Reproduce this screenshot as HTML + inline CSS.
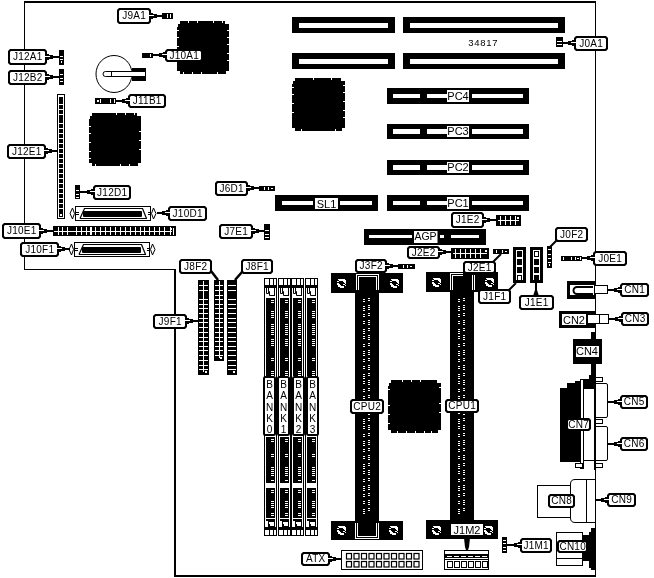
<!DOCTYPE html>
<html><head><meta charset="utf-8"><style>
html,body{margin:0;padding:0;background:#fff;overflow:hidden;}
svg{display:block;will-change:transform;}
text{font-family:"Liberation Sans",sans-serif;fill:#000;}
</style></head><body>
<svg width="654" height="578" viewBox="0 0 654 578">
<rect x="24" y="1" width="572" height="2" fill="#000"/>
<rect x="24" y="1" width="1" height="269" fill="#000"/>
<rect x="24" y="269" width="152" height="1" fill="#000"/>
<rect x="174" y="269" width="2" height="308" fill="#000"/>
<rect x="174" y="575" width="422" height="2" fill="#000"/>
<rect x="595" y="1" width="1" height="576" fill="#000"/>
<rect x="292" y="17" width="103" height="16" fill="#000"/>
<rect x="299" y="23" width="89" height="5" fill="#fff"/>
<rect x="403" y="17" width="162" height="16" fill="#000"/>
<rect x="410" y="23" width="148" height="5" fill="#fff"/>
<rect x="292" y="53" width="103" height="16" fill="#000"/>
<rect x="299" y="59" width="89" height="5" fill="#fff"/>
<rect x="403" y="53" width="162" height="16" fill="#000"/>
<rect x="410" y="59" width="148" height="5" fill="#fff"/>
<rect x="387" y="88" width="142" height="16" fill="#000"/>
<rect x="393" y="94" width="27" height="4" fill="#fff"/>
<rect x="427" y="94" width="20" height="4" fill="#fff"/>
<rect x="472" y="94" width="51" height="4" fill="#fff"/>
<rect x="447" y="90" width="22" height="12" fill="#fff"/>
<text x="458" y="99.5" font-size="11" text-anchor="middle" >PC4</text>
<rect x="387" y="124" width="142" height="15" fill="#000"/>
<rect x="393" y="129" width="27" height="5" fill="#fff"/>
<rect x="427" y="129" width="20" height="5" fill="#fff"/>
<rect x="472" y="129" width="51" height="5" fill="#fff"/>
<rect x="447" y="126" width="22" height="11" fill="#fff"/>
<text x="458" y="135.0" font-size="11" text-anchor="middle" >PC3</text>
<rect x="387" y="160" width="142" height="15" fill="#000"/>
<rect x="393" y="165" width="27" height="5" fill="#fff"/>
<rect x="427" y="165" width="20" height="5" fill="#fff"/>
<rect x="472" y="165" width="51" height="5" fill="#fff"/>
<rect x="447" y="162" width="22" height="11" fill="#fff"/>
<text x="458" y="171.0" font-size="11" text-anchor="middle" >PC2</text>
<rect x="387" y="195" width="142" height="16" fill="#000"/>
<rect x="393" y="201" width="27" height="4" fill="#fff"/>
<rect x="427" y="201" width="20" height="4" fill="#fff"/>
<rect x="472" y="201" width="51" height="4" fill="#fff"/>
<rect x="447" y="197" width="22" height="12" fill="#fff"/>
<text x="458" y="206.5" font-size="11" text-anchor="middle" >PC1</text>
<rect x="275" y="195" width="103" height="16" fill="#000"/>
<rect x="282" y="201" width="31" height="4" fill="#fff"/>
<rect x="340" y="201" width="32" height="4" fill="#fff"/>
<rect x="315" y="198" width="23" height="11" fill="#fff"/>
<text x="326.5" y="208" font-size="11" text-anchor="middle" >SL1</text>
<rect x="364" y="229" width="122" height="16" fill="#000"/>
<rect x="369" y="235" width="43" height="3" fill="#fff"/>
<rect x="451" y="235" width="28" height="3" fill="#fff"/>
<rect x="440" y="235" width="4" height="3" fill="#fff"/>
<rect x="414" y="231" width="23.5" height="12" fill="#fff"/>
<text x="425.5" y="239.5" font-size="10.5" text-anchor="middle" >AGP</text>
<polygon points="180,21 225,21 225,24 229,24 229,71 226,71 226,74 180,74 180,71 177,71 177,27 178,27 178,24 180,24" fill="#000"/>
<rect x="188" y="21" width="1" height="2" fill="#fff"/>
<rect x="197" y="21" width="1" height="2" fill="#fff"/>
<rect x="213" y="21" width="1" height="2" fill="#fff"/>
<rect x="222" y="21" width="1" height="2" fill="#fff"/>
<rect x="183" y="72" width="1" height="2" fill="#fff"/>
<rect x="192" y="72" width="1" height="2" fill="#fff"/>
<rect x="201" y="72" width="1" height="2" fill="#fff"/>
<rect x="217" y="72" width="1" height="2" fill="#fff"/>
<rect x="177" y="30" width="2" height="1" fill="#fff"/>
<rect x="177" y="37" width="2" height="1" fill="#fff"/>
<rect x="177" y="46" width="2" height="1" fill="#fff"/>
<rect x="227" y="30" width="2" height="1" fill="#fff"/>
<rect x="227" y="37" width="2" height="1" fill="#fff"/>
<rect x="227" y="44" width="2" height="1" fill="#fff"/>
<rect x="227" y="53" width="2" height="1" fill="#fff"/>
<rect x="227" y="60" width="2" height="1" fill="#fff"/>
<polygon points="92,113 137,113 137,116 141,116 141,163 138,163 138,166 92,166 92,163 89,163 89,119 90,119 90,116 92,116" fill="#000"/>
<rect x="116" y="113" width="1" height="2" fill="#fff"/>
<rect x="125" y="113" width="1" height="2" fill="#fff"/>
<rect x="134" y="113" width="1" height="2" fill="#fff"/>
<rect x="95" y="164" width="1" height="2" fill="#fff"/>
<rect x="120" y="164" width="1" height="2" fill="#fff"/>
<rect x="129" y="164" width="1" height="2" fill="#fff"/>
<rect x="89" y="126" width="2" height="1" fill="#fff"/>
<rect x="89" y="133" width="2" height="1" fill="#fff"/>
<rect x="89" y="142" width="2" height="1" fill="#fff"/>
<rect x="89" y="151" width="2" height="1" fill="#fff"/>
<rect x="89" y="158" width="2" height="1" fill="#fff"/>
<rect x="139" y="131" width="2" height="1" fill="#fff"/>
<rect x="139" y="140" width="2" height="1" fill="#fff"/>
<rect x="139" y="149" width="2" height="1" fill="#fff"/>
<polygon points="295,78 341,78 341,81 345,81 345,128 342,128 342,131 295,131 295,128 292,128 292,84 293,84 293,81 295,81" fill="#000"/>
<rect x="313" y="78" width="1" height="2" fill="#fff"/>
<rect x="331" y="78" width="1" height="2" fill="#fff"/>
<rect x="301" y="129" width="1" height="2" fill="#fff"/>
<rect x="335" y="129" width="1" height="2" fill="#fff"/>
<rect x="292" y="87" width="2" height="1" fill="#fff"/>
<rect x="292" y="94" width="2" height="1" fill="#fff"/>
<rect x="292" y="103" width="2" height="1" fill="#fff"/>
<rect x="292" y="112" width="2" height="1" fill="#fff"/>
<rect x="343" y="85" width="2" height="1" fill="#fff"/>
<rect x="343" y="92" width="2" height="1" fill="#fff"/>
<rect x="343" y="101" width="2" height="1" fill="#fff"/>
<rect x="343" y="110" width="2" height="1" fill="#fff"/>
<rect x="343" y="117" width="2" height="1" fill="#fff"/>
<polygon points="391,380 437,380 437,383 441,383 441,430 438,430 438,433 391,433 391,430 388,430 388,386 389,386 389,383 391,383" fill="#000"/>
<rect x="402" y="380" width="1" height="2" fill="#fff"/>
<rect x="411" y="380" width="1" height="2" fill="#fff"/>
<rect x="420" y="380" width="1" height="2" fill="#fff"/>
<rect x="397" y="431" width="1" height="2" fill="#fff"/>
<rect x="406" y="431" width="1" height="2" fill="#fff"/>
<rect x="415" y="431" width="1" height="2" fill="#fff"/>
<rect x="424" y="431" width="1" height="2" fill="#fff"/>
<rect x="431" y="431" width="1" height="2" fill="#fff"/>
<rect x="388" y="389" width="2" height="1" fill="#fff"/>
<rect x="388" y="405" width="2" height="1" fill="#fff"/>
<rect x="388" y="414" width="2" height="1" fill="#fff"/>
<rect x="388" y="423" width="2" height="1" fill="#fff"/>
<rect x="439" y="387" width="2" height="1" fill="#fff"/>
<rect x="439" y="403" width="2" height="1" fill="#fff"/>
<rect x="439" y="412" width="2" height="1" fill="#fff"/>
<ellipse cx="114" cy="74" rx="18" ry="18.5" fill="#fff" stroke="#000" stroke-width="1"/>
<rect x="132" y="68" width="14" height="13" fill="#000"/>
<path d="M105.5,71.5 H145.5 V76.5 H105.5 A2.5,2.5 0 0 1 105.5,71.5 Z" fill="#fff" stroke="#000" stroke-width="1"/>
<rect x="111" y="72" width="1" height="4" fill="#000"/>
<rect x="57" y="94" width="8" height="125" fill="#000"/>
<rect x="58" y="95" width="6" height="123" fill="#fff"/>
<rect x="59" y="97" width="4" height="7" fill="#000"/>
<rect x="59" y="105" width="4" height="4" fill="#000"/>
<rect x="59" y="110" width="4" height="4" fill="#000"/>
<rect x="59" y="115" width="4" height="8" fill="#000"/>
<rect x="59" y="124" width="4" height="4" fill="#000"/>
<rect x="59" y="129" width="4" height="4" fill="#000"/>
<rect x="59" y="134" width="4" height="4" fill="#000"/>
<rect x="59" y="139" width="4" height="4" fill="#000"/>
<rect x="59" y="144" width="4" height="4" fill="#000"/>
<rect x="59" y="149" width="4" height="4" fill="#000"/>
<rect x="59" y="154" width="4" height="4" fill="#000"/>
<rect x="59" y="159" width="4" height="4" fill="#000"/>
<rect x="59" y="164" width="4" height="4" fill="#000"/>
<rect x="59" y="169" width="4" height="4" fill="#000"/>
<rect x="59" y="174" width="4" height="4" fill="#000"/>
<rect x="59" y="179" width="4" height="4" fill="#000"/>
<rect x="59" y="184" width="4" height="4" fill="#000"/>
<rect x="59" y="189" width="4" height="4" fill="#000"/>
<rect x="59" y="194" width="4" height="4" fill="#000"/>
<rect x="59" y="199" width="4" height="4" fill="#000"/>
<rect x="59" y="204" width="4" height="4" fill="#000"/>
<rect x="59" y="209" width="4" height="4" fill="#000"/>
<rect x="59" y="213" width="4" height="4" fill="#000"/>
<rect x="60" y="214" width="2" height="2" fill="#fff"/>
<rect x="53" y="226" width="123" height="10" fill="#000"/>
<rect x="54" y="231" width="118" height="1" fill="#fff"/>
<rect x="58" y="227" width="1" height="8" fill="#fff"/>
<rect x="62" y="227" width="1" height="8" fill="#fff"/>
<rect x="67" y="227" width="1" height="8" fill="#fff"/>
<rect x="76" y="227" width="1" height="8" fill="#fff"/>
<rect x="81" y="227" width="1" height="8" fill="#fff"/>
<rect x="86" y="227" width="1" height="8" fill="#fff"/>
<rect x="95" y="227" width="1" height="8" fill="#fff"/>
<rect x="100" y="227" width="1" height="8" fill="#fff"/>
<rect x="105" y="227" width="1" height="8" fill="#fff"/>
<rect x="110" y="227" width="1" height="8" fill="#fff"/>
<rect x="115" y="227" width="1" height="8" fill="#fff"/>
<rect x="120" y="227" width="1" height="8" fill="#fff"/>
<rect x="125" y="227" width="1" height="8" fill="#fff"/>
<rect x="130" y="227" width="1" height="8" fill="#fff"/>
<rect x="135" y="227" width="1" height="8" fill="#fff"/>
<rect x="140" y="227" width="1" height="8" fill="#fff"/>
<rect x="144" y="227" width="1" height="8" fill="#fff"/>
<rect x="149" y="227" width="1" height="8" fill="#fff"/>
<rect x="154" y="227" width="1" height="8" fill="#fff"/>
<rect x="159" y="227" width="1" height="8" fill="#fff"/>
<rect x="164" y="227" width="1" height="8" fill="#fff"/>
<rect x="170" y="227" width="1" height="8" fill="#fff"/>
<rect x="90" y="227" width="2" height="8" fill="#fff"/>
<rect x="171" y="228" width="1" height="2" fill="#fff"/>
<rect x="173" y="228" width="1" height="7" fill="#fff"/>
<rect x="75" y="206" width="76" height="15" fill="#000"/>
<rect x="76" y="207" width="74" height="13" fill="#fff"/>
<rect x="84" y="208" width="59" height="1" fill="#000"/>
<rect x="80" y="218" width="67" height="1" fill="#000"/>
<path d="M84.5,208.5 L80,218.5" stroke="#000" stroke-width="1.2" fill="none"/>
<path d="M142.5,208.5 L146.5,218.5" stroke="#000" stroke-width="1.2" fill="none"/>
<rect x="83" y="211" width="59" height="6" rx="1" fill="#000"/>
<rect x="76" y="212" width="3" height="1" fill="#000"/>
<rect x="76" y="214" width="3" height="1" fill="#000"/>
<rect x="148" y="212" width="2" height="1" fill="#000"/>
<rect x="148" y="214" width="2" height="1" fill="#000"/>
<path d="M72.5,208 L70,213.5 L72.5,219 L74.5,213.5 Z" fill="none" stroke="#000" stroke-width="1"/>
<path d="M153.5,208 L151.5,213.5 L153.5,219 L156,213.5 Z" fill="none" stroke="#000" stroke-width="1"/>
<rect x="74" y="242" width="76" height="15" fill="#000"/>
<rect x="75" y="243" width="74" height="13" fill="#fff"/>
<rect x="83" y="244" width="59" height="1" fill="#000"/>
<rect x="79" y="254" width="67" height="1" fill="#000"/>
<path d="M83.5,244.5 L79,254.5" stroke="#000" stroke-width="1.2" fill="none"/>
<path d="M141.5,244.5 L145.5,254.5" stroke="#000" stroke-width="1.2" fill="none"/>
<rect x="82" y="247" width="59" height="6" rx="1" fill="#000"/>
<rect x="75" y="248" width="3" height="1" fill="#000"/>
<rect x="75" y="250" width="3" height="1" fill="#000"/>
<rect x="147" y="248" width="2" height="1" fill="#000"/>
<rect x="147" y="250" width="2" height="1" fill="#000"/>
<path d="M71.5,244 L69,249.5 L71.5,255 L73.5,249.5 Z" fill="none" stroke="#000" stroke-width="1"/>
<path d="M152.5,244 L150.5,249.5 L152.5,255 L155,249.5 Z" fill="none" stroke="#000" stroke-width="1"/>
<rect x="198" y="280" width="11" height="95" fill="#000"/>
<rect x="199" y="285" width="9" height="1" fill="#fff"/>
<rect x="199" y="290" width="9" height="1" fill="#fff"/>
<rect x="199" y="299" width="9" height="1" fill="#fff"/>
<rect x="199" y="304" width="9" height="1" fill="#fff"/>
<rect x="199" y="308" width="9" height="1" fill="#fff"/>
<rect x="199" y="313" width="9" height="1" fill="#fff"/>
<rect x="199" y="318" width="9" height="1" fill="#fff"/>
<rect x="199" y="322" width="9" height="1" fill="#fff"/>
<rect x="199" y="327" width="9" height="1" fill="#fff"/>
<rect x="199" y="332" width="9" height="1" fill="#fff"/>
<rect x="199" y="337" width="9" height="1" fill="#fff"/>
<rect x="199" y="341" width="9" height="1" fill="#fff"/>
<rect x="199" y="346" width="9" height="1" fill="#fff"/>
<rect x="199" y="350" width="9" height="1" fill="#fff"/>
<rect x="199" y="355" width="9" height="1" fill="#fff"/>
<rect x="199" y="360" width="9" height="1" fill="#fff"/>
<rect x="199" y="365" width="9" height="1" fill="#fff"/>
<rect x="199" y="369" width="9" height="1" fill="#fff"/>
<rect x="203" y="281" width="1" height="91" fill="#fff"/>
<rect x="205" y="371" width="2" height="2" fill="#fff"/>
<rect x="214" y="280" width="10" height="81" fill="#000"/>
<rect x="215" y="285" width="8" height="1" fill="#fff"/>
<rect x="215" y="290" width="8" height="1" fill="#fff"/>
<rect x="215" y="295" width="8" height="1" fill="#fff"/>
<rect x="215" y="299" width="8" height="1" fill="#fff"/>
<rect x="215" y="304" width="8" height="1" fill="#fff"/>
<rect x="215" y="308" width="8" height="1" fill="#fff"/>
<rect x="215" y="313" width="8" height="1" fill="#fff"/>
<rect x="215" y="318" width="8" height="1" fill="#fff"/>
<rect x="215" y="322" width="8" height="1" fill="#fff"/>
<rect x="215" y="327" width="8" height="1" fill="#fff"/>
<rect x="215" y="332" width="8" height="1" fill="#fff"/>
<rect x="215" y="337" width="8" height="1" fill="#fff"/>
<rect x="215" y="341" width="8" height="1" fill="#fff"/>
<rect x="215" y="346" width="8" height="1" fill="#fff"/>
<rect x="215" y="350" width="8" height="1" fill="#fff"/>
<rect x="215" y="355" width="8" height="1" fill="#fff"/>
<rect x="219" y="281" width="1" height="77" fill="#fff"/>
<rect x="220" y="357" width="2" height="2" fill="#fff"/>
<rect x="227" y="280" width="10" height="95" fill="#000"/>
<rect x="228" y="285" width="8" height="1" fill="#fff"/>
<rect x="228" y="290" width="8" height="1" fill="#fff"/>
<rect x="228" y="299" width="8" height="1" fill="#fff"/>
<rect x="228" y="304" width="8" height="1" fill="#fff"/>
<rect x="228" y="308" width="8" height="1" fill="#fff"/>
<rect x="228" y="313" width="8" height="1" fill="#fff"/>
<rect x="228" y="318" width="8" height="1" fill="#fff"/>
<rect x="228" y="322" width="8" height="1" fill="#fff"/>
<rect x="228" y="327" width="8" height="1" fill="#fff"/>
<rect x="228" y="332" width="8" height="1" fill="#fff"/>
<rect x="228" y="337" width="8" height="1" fill="#fff"/>
<rect x="228" y="341" width="8" height="1" fill="#fff"/>
<rect x="228" y="346" width="8" height="1" fill="#fff"/>
<rect x="228" y="350" width="8" height="1" fill="#fff"/>
<rect x="228" y="355" width="8" height="1" fill="#fff"/>
<rect x="228" y="360" width="8" height="1" fill="#fff"/>
<rect x="228" y="365" width="8" height="1" fill="#fff"/>
<rect x="228" y="369" width="8" height="1" fill="#fff"/>
<rect x="233" y="371" width="2" height="2" fill="#fff"/>
<rect x="496" y="215" width="25" height="11" fill="#000"/>
<rect x="498" y="220" width="21" height="1" fill="#fff"/>
<rect x="500" y="216" width="1" height="9" fill="#fff"/>
<rect x="505" y="216" width="1" height="9" fill="#fff"/>
<rect x="510" y="216" width="1" height="9" fill="#fff"/>
<rect x="515" y="216" width="1" height="9" fill="#fff"/>
<rect x="517" y="217" width="2" height="2" fill="#fff"/>
<rect x="451" y="248" width="38" height="11" fill="#000"/>
<rect x="453" y="253" width="34" height="1" fill="#fff"/>
<rect x="455" y="249" width="1" height="9" fill="#fff"/>
<rect x="460" y="249" width="1" height="9" fill="#fff"/>
<rect x="465" y="249" width="1" height="9" fill="#fff"/>
<rect x="470" y="249" width="1" height="9" fill="#fff"/>
<rect x="475" y="249" width="1" height="9" fill="#fff"/>
<rect x="480" y="249" width="1" height="9" fill="#fff"/>
<rect x="485" y="250" width="2" height="2" fill="#fff"/>
<rect x="162" y="13" width="11" height="6" fill="#000"/>
<rect x="167" y="14" width="1" height="4" fill="#fff"/>
<rect x="170" y="14" width="1" height="4" fill="#fff"/>
<rect x="142" y="53" width="11" height="5" fill="#000"/>
<rect x="150" y="54" width="1" height="3" fill="#fff"/>
<rect x="59" y="50" width="5" height="15" fill="#000"/>
<rect x="60" y="56" width="3" height="1" fill="#fff"/>
<rect x="60" y="59" width="3" height="1" fill="#fff"/>
<rect x="61" y="61" width="1" height="2" fill="#fff"/>
<rect x="59" y="69" width="5" height="16" fill="#000"/>
<rect x="60" y="74" width="3" height="1" fill="#fff"/>
<rect x="60" y="78" width="3" height="1" fill="#fff"/>
<rect x="60" y="81" width="3" height="1" fill="#fff"/>
<rect x="95" y="98" width="21" height="6" fill="#000"/>
<rect x="100" y="99" width="1" height="4" fill="#fff"/>
<rect x="110" y="99" width="1" height="4" fill="#fff"/>
<rect x="114" y="99" width="1" height="4" fill="#fff"/>
<rect x="97" y="100" width="2" height="2" fill="#fff"/>
<rect x="75" y="185" width="5" height="14" fill="#000"/>
<rect x="76" y="190" width="3" height="1" fill="#fff"/>
<rect x="76" y="194" width="3" height="1" fill="#fff"/>
<rect x="76" y="197" width="3" height="1" fill="#fff"/>
<rect x="259" y="186" width="16" height="5" fill="#000"/>
<rect x="264" y="187" width="1" height="3" fill="#fff"/>
<rect x="268" y="187" width="1" height="3" fill="#fff"/>
<rect x="271" y="188" width="2" height="1" fill="#fff"/>
<rect x="264" y="224" width="6" height="16" fill="#000"/>
<rect x="265" y="230" width="4" height="1" fill="#fff"/>
<rect x="265" y="234" width="4" height="1" fill="#fff"/>
<rect x="265" y="237" width="4" height="1" fill="#fff"/>
<rect x="398" y="264" width="17" height="5" fill="#000"/>
<rect x="403" y="265" width="1" height="3" fill="#fff"/>
<rect x="407" y="265" width="1" height="3" fill="#fff"/>
<rect x="410" y="266" width="2" height="1" fill="#fff"/>
<rect x="493" y="249" width="16" height="5" fill="#000"/>
<rect x="496" y="250" width="1" height="3" fill="#fff"/>
<rect x="502" y="250" width="1" height="3" fill="#fff"/>
<rect x="505" y="251" width="2" height="1" fill="#fff"/>
<rect x="547" y="246" width="5" height="22" fill="#000"/>
<rect x="548" y="249" width="3" height="1" fill="#fff"/>
<rect x="548" y="254" width="3" height="1" fill="#fff"/>
<rect x="548" y="258" width="3" height="1" fill="#fff"/>
<rect x="548" y="262" width="3" height="1" fill="#fff"/>
<rect x="549" y="264" width="1" height="2" fill="#fff"/>
<rect x="561" y="256" width="21" height="5" fill="#000"/>
<rect x="563" y="257" width="1" height="3" fill="#fff"/>
<rect x="571" y="257" width="1" height="3" fill="#fff"/>
<rect x="575" y="257" width="1" height="3" fill="#fff"/>
<rect x="580" y="257" width="1" height="3" fill="#fff"/>
<rect x="577" y="258" width="2" height="1" fill="#fff"/>
<rect x="556" y="37" width="7" height="10" fill="#000"/>
<rect x="557" y="41" width="5" height="1" fill="#fff"/>
<rect x="557" y="44" width="5" height="1" fill="#fff"/>
<rect x="502" y="537" width="5" height="16" fill="#000"/>
<rect x="503" y="540" width="3" height="1" fill="#fff"/>
<rect x="503" y="543" width="3" height="1" fill="#fff"/>
<rect x="503" y="547" width="3" height="1" fill="#fff"/>
<rect x="503" y="550" width="3" height="1" fill="#fff"/>
<rect x="513" y="247" width="13" height="36" fill="#000"/>
<rect x="516" y="250" width="7" height="30" fill="#fff"/>
<rect x="517" y="251" width="5" height="6" fill="#000"/>
<rect x="517" y="259" width="5" height="6" fill="#000"/>
<rect x="517" y="267" width="5" height="6" fill="#000"/>
<rect x="517" y="275" width="5" height="6" fill="#000"/>
<rect x="518" y="276" width="3" height="4" fill="#fff"/>
<rect x="530" y="247" width="13" height="36" fill="#000"/>
<rect x="533" y="250" width="7" height="30" fill="#fff"/>
<rect x="534" y="251" width="5" height="6" fill="#000"/>
<rect x="535" y="252" width="3" height="4" fill="#fff"/>
<rect x="534" y="259" width="5" height="6" fill="#000"/>
<rect x="534" y="267" width="5" height="6" fill="#000"/>
<rect x="534" y="275" width="5" height="6" fill="#000"/>
<rect x="264" y="278" width="13" height="258" fill="#000"/>
<rect x="265" y="279" width="11" height="256" fill="#fff"/>
<rect x="265" y="285" width="11" height="3" fill="#000"/>
<rect x="269" y="279" width="1" height="6" fill="#000"/>
<rect x="273" y="279" width="1" height="6" fill="#000"/>
<path d="M266.5,288 V293.5 H268.5 V291.5 M268.5,288 V291.5 H269.5 V295.5 H275" fill="none" stroke="#000" stroke-width="1"/>
<rect x="274" y="288" width="1" height="8" fill="#000"/>
<rect x="266" y="298" width="9" height="78" fill="#000"/>
<rect x="266" y="437" width="9" height="46" fill="#000"/>
<rect x="266" y="488" width="9" height="30" fill="#000"/>
<rect x="271" y="300" width="3" height="1" fill="#fff"/>
<rect x="271" y="302" width="3" height="1" fill="#fff"/>
<rect x="271" y="311" width="3" height="1" fill="#fff"/>
<rect x="271" y="313" width="3" height="1" fill="#fff"/>
<rect x="271" y="315" width="3" height="1" fill="#fff"/>
<rect x="271" y="317" width="3" height="1" fill="#fff"/>
<rect x="271" y="324" width="3" height="1" fill="#fff"/>
<rect x="271" y="326" width="3" height="1" fill="#fff"/>
<rect x="271" y="328" width="3" height="1" fill="#fff"/>
<rect x="271" y="330" width="3" height="1" fill="#fff"/>
<rect x="271" y="332" width="3" height="1" fill="#fff"/>
<rect x="271" y="334" width="3" height="1" fill="#fff"/>
<rect x="271" y="339" width="3" height="1" fill="#fff"/>
<rect x="271" y="341" width="3" height="1" fill="#fff"/>
<rect x="271" y="343" width="3" height="1" fill="#fff"/>
<rect x="271" y="345" width="3" height="1" fill="#fff"/>
<rect x="271" y="358" width="3" height="1" fill="#fff"/>
<rect x="271" y="360" width="3" height="1" fill="#fff"/>
<rect x="271" y="371" width="3" height="1" fill="#fff"/>
<rect x="271" y="373" width="3" height="1" fill="#fff"/>
<rect x="271" y="375" width="3" height="1" fill="#fff"/>
<rect x="271" y="439" width="3" height="1" fill="#fff"/>
<rect x="271" y="441" width="3" height="1" fill="#fff"/>
<rect x="271" y="454" width="3" height="1" fill="#fff"/>
<rect x="271" y="456" width="3" height="1" fill="#fff"/>
<rect x="271" y="467" width="3" height="1" fill="#fff"/>
<rect x="271" y="469" width="3" height="1" fill="#fff"/>
<rect x="271" y="471" width="3" height="1" fill="#fff"/>
<rect x="271" y="473" width="3" height="1" fill="#fff"/>
<rect x="271" y="475" width="3" height="1" fill="#fff"/>
<rect x="271" y="480" width="3" height="1" fill="#fff"/>
<rect x="271" y="490" width="3" height="1" fill="#fff"/>
<rect x="271" y="492" width="3" height="1" fill="#fff"/>
<rect x="271" y="501" width="3" height="1" fill="#fff"/>
<rect x="271" y="503" width="3" height="1" fill="#fff"/>
<rect x="271" y="505" width="3" height="1" fill="#fff"/>
<rect x="271" y="507" width="3" height="1" fill="#fff"/>
<rect x="271" y="513" width="3" height="1" fill="#fff"/>
<rect x="271" y="515" width="3" height="1" fill="#fff"/>
<polygon points="266,519 275,519 275,527 268,527 268,521 266,521" fill="#000"/>
<polygon points="269,522 274,522 274,526 270,526 270,524 269,524" fill="#fff"/>
<rect x="265" y="527" width="11" height="3" fill="#000"/>
<rect x="269" y="530" width="1" height="5" fill="#000"/>
<rect x="273" y="530" width="1" height="5" fill="#000"/>
<rect x="264" y="377" width="11" height="58" rx="1.5" fill="#fff" stroke="#000" stroke-width="2"/>
<text x="269.5" y="388.0" font-size="10" text-anchor="middle" >B</text>
<text x="269.5" y="399.3" font-size="10" text-anchor="middle" >A</text>
<text x="269.5" y="410.6" font-size="10" text-anchor="middle" >N</text>
<text x="269.5" y="421.9" font-size="10" text-anchor="middle" >K</text>
<text x="269.5" y="433.2" font-size="10" text-anchor="middle" >0</text>
<rect x="278" y="278" width="13" height="258" fill="#000"/>
<rect x="279" y="279" width="11" height="256" fill="#fff"/>
<rect x="279" y="285" width="11" height="3" fill="#000"/>
<rect x="283" y="279" width="1" height="6" fill="#000"/>
<rect x="287" y="279" width="1" height="6" fill="#000"/>
<path d="M280.5,288 V293.5 H282.5 V291.5 M282.5,288 V291.5 H283.5 V295.5 H289" fill="none" stroke="#000" stroke-width="1"/>
<rect x="288" y="288" width="1" height="8" fill="#000"/>
<rect x="280" y="298" width="9" height="78" fill="#000"/>
<rect x="280" y="437" width="9" height="46" fill="#000"/>
<rect x="280" y="488" width="9" height="30" fill="#000"/>
<rect x="285" y="300" width="3" height="1" fill="#fff"/>
<rect x="285" y="302" width="3" height="1" fill="#fff"/>
<rect x="285" y="311" width="3" height="1" fill="#fff"/>
<rect x="285" y="313" width="3" height="1" fill="#fff"/>
<rect x="285" y="315" width="3" height="1" fill="#fff"/>
<rect x="285" y="317" width="3" height="1" fill="#fff"/>
<rect x="285" y="324" width="3" height="1" fill="#fff"/>
<rect x="285" y="326" width="3" height="1" fill="#fff"/>
<rect x="285" y="328" width="3" height="1" fill="#fff"/>
<rect x="285" y="330" width="3" height="1" fill="#fff"/>
<rect x="285" y="332" width="3" height="1" fill="#fff"/>
<rect x="285" y="334" width="3" height="1" fill="#fff"/>
<rect x="285" y="339" width="3" height="1" fill="#fff"/>
<rect x="285" y="341" width="3" height="1" fill="#fff"/>
<rect x="285" y="343" width="3" height="1" fill="#fff"/>
<rect x="285" y="345" width="3" height="1" fill="#fff"/>
<rect x="285" y="358" width="3" height="1" fill="#fff"/>
<rect x="285" y="360" width="3" height="1" fill="#fff"/>
<rect x="285" y="371" width="3" height="1" fill="#fff"/>
<rect x="285" y="373" width="3" height="1" fill="#fff"/>
<rect x="285" y="375" width="3" height="1" fill="#fff"/>
<rect x="285" y="439" width="3" height="1" fill="#fff"/>
<rect x="285" y="441" width="3" height="1" fill="#fff"/>
<rect x="285" y="454" width="3" height="1" fill="#fff"/>
<rect x="285" y="456" width="3" height="1" fill="#fff"/>
<rect x="285" y="467" width="3" height="1" fill="#fff"/>
<rect x="285" y="469" width="3" height="1" fill="#fff"/>
<rect x="285" y="471" width="3" height="1" fill="#fff"/>
<rect x="285" y="473" width="3" height="1" fill="#fff"/>
<rect x="285" y="475" width="3" height="1" fill="#fff"/>
<rect x="285" y="480" width="3" height="1" fill="#fff"/>
<rect x="285" y="490" width="3" height="1" fill="#fff"/>
<rect x="285" y="492" width="3" height="1" fill="#fff"/>
<rect x="285" y="501" width="3" height="1" fill="#fff"/>
<rect x="285" y="503" width="3" height="1" fill="#fff"/>
<rect x="285" y="505" width="3" height="1" fill="#fff"/>
<rect x="285" y="507" width="3" height="1" fill="#fff"/>
<rect x="285" y="513" width="3" height="1" fill="#fff"/>
<rect x="285" y="515" width="3" height="1" fill="#fff"/>
<polygon points="280,519 289,519 289,527 282,527 282,521 280,521" fill="#000"/>
<polygon points="283,522 288,522 288,526 284,526 284,524 283,524" fill="#fff"/>
<rect x="279" y="527" width="11" height="3" fill="#000"/>
<rect x="283" y="530" width="1" height="5" fill="#000"/>
<rect x="287" y="530" width="1" height="5" fill="#000"/>
<rect x="278" y="377" width="11" height="58" rx="1.5" fill="#fff" stroke="#000" stroke-width="2"/>
<text x="283.5" y="388.0" font-size="10" text-anchor="middle" >B</text>
<text x="283.5" y="399.3" font-size="10" text-anchor="middle" >A</text>
<text x="283.5" y="410.6" font-size="10" text-anchor="middle" >N</text>
<text x="283.5" y="421.9" font-size="10" text-anchor="middle" >K</text>
<text x="283.5" y="433.2" font-size="10" text-anchor="middle" >1</text>
<rect x="291" y="278" width="13" height="258" fill="#000"/>
<rect x="292" y="279" width="11" height="256" fill="#fff"/>
<rect x="292" y="285" width="11" height="3" fill="#000"/>
<rect x="296" y="279" width="1" height="6" fill="#000"/>
<rect x="300" y="279" width="1" height="6" fill="#000"/>
<path d="M293.5,288 V293.5 H295.5 V291.5 M295.5,288 V291.5 H296.5 V295.5 H302" fill="none" stroke="#000" stroke-width="1"/>
<rect x="301" y="288" width="1" height="8" fill="#000"/>
<rect x="293" y="298" width="9" height="78" fill="#000"/>
<rect x="293" y="437" width="9" height="46" fill="#000"/>
<rect x="293" y="488" width="9" height="30" fill="#000"/>
<rect x="298" y="300" width="3" height="1" fill="#fff"/>
<rect x="298" y="302" width="3" height="1" fill="#fff"/>
<rect x="298" y="311" width="3" height="1" fill="#fff"/>
<rect x="298" y="313" width="3" height="1" fill="#fff"/>
<rect x="298" y="315" width="3" height="1" fill="#fff"/>
<rect x="298" y="317" width="3" height="1" fill="#fff"/>
<rect x="298" y="324" width="3" height="1" fill="#fff"/>
<rect x="298" y="326" width="3" height="1" fill="#fff"/>
<rect x="298" y="328" width="3" height="1" fill="#fff"/>
<rect x="298" y="330" width="3" height="1" fill="#fff"/>
<rect x="298" y="332" width="3" height="1" fill="#fff"/>
<rect x="298" y="334" width="3" height="1" fill="#fff"/>
<rect x="298" y="339" width="3" height="1" fill="#fff"/>
<rect x="298" y="341" width="3" height="1" fill="#fff"/>
<rect x="298" y="343" width="3" height="1" fill="#fff"/>
<rect x="298" y="345" width="3" height="1" fill="#fff"/>
<rect x="298" y="358" width="3" height="1" fill="#fff"/>
<rect x="298" y="360" width="3" height="1" fill="#fff"/>
<rect x="298" y="371" width="3" height="1" fill="#fff"/>
<rect x="298" y="373" width="3" height="1" fill="#fff"/>
<rect x="298" y="375" width="3" height="1" fill="#fff"/>
<rect x="298" y="439" width="3" height="1" fill="#fff"/>
<rect x="298" y="441" width="3" height="1" fill="#fff"/>
<rect x="298" y="454" width="3" height="1" fill="#fff"/>
<rect x="298" y="456" width="3" height="1" fill="#fff"/>
<rect x="298" y="467" width="3" height="1" fill="#fff"/>
<rect x="298" y="469" width="3" height="1" fill="#fff"/>
<rect x="298" y="471" width="3" height="1" fill="#fff"/>
<rect x="298" y="473" width="3" height="1" fill="#fff"/>
<rect x="298" y="475" width="3" height="1" fill="#fff"/>
<rect x="298" y="480" width="3" height="1" fill="#fff"/>
<rect x="298" y="490" width="3" height="1" fill="#fff"/>
<rect x="298" y="492" width="3" height="1" fill="#fff"/>
<rect x="298" y="501" width="3" height="1" fill="#fff"/>
<rect x="298" y="503" width="3" height="1" fill="#fff"/>
<rect x="298" y="505" width="3" height="1" fill="#fff"/>
<rect x="298" y="507" width="3" height="1" fill="#fff"/>
<rect x="298" y="513" width="3" height="1" fill="#fff"/>
<rect x="298" y="515" width="3" height="1" fill="#fff"/>
<polygon points="293,519 302,519 302,527 295,527 295,521 293,521" fill="#000"/>
<polygon points="296,522 301,522 301,526 297,526 297,524 296,524" fill="#fff"/>
<rect x="292" y="527" width="11" height="3" fill="#000"/>
<rect x="296" y="530" width="1" height="5" fill="#000"/>
<rect x="300" y="530" width="1" height="5" fill="#000"/>
<rect x="293" y="377" width="11" height="58" rx="1.5" fill="#fff" stroke="#000" stroke-width="2"/>
<text x="298.5" y="388.0" font-size="10" text-anchor="middle" >B</text>
<text x="298.5" y="399.3" font-size="10" text-anchor="middle" >A</text>
<text x="298.5" y="410.6" font-size="10" text-anchor="middle" >N</text>
<text x="298.5" y="421.9" font-size="10" text-anchor="middle" >K</text>
<text x="298.5" y="433.2" font-size="10" text-anchor="middle" >2</text>
<rect x="305" y="278" width="13" height="258" fill="#000"/>
<rect x="306" y="279" width="11" height="256" fill="#fff"/>
<rect x="306" y="285" width="11" height="3" fill="#000"/>
<rect x="310" y="279" width="1" height="6" fill="#000"/>
<rect x="314" y="279" width="1" height="6" fill="#000"/>
<path d="M307.5,288 V293.5 H309.5 V291.5 M309.5,288 V291.5 H310.5 V295.5 H316" fill="none" stroke="#000" stroke-width="1"/>
<rect x="315" y="288" width="1" height="8" fill="#000"/>
<rect x="307" y="298" width="9" height="78" fill="#000"/>
<rect x="307" y="437" width="9" height="46" fill="#000"/>
<rect x="307" y="488" width="9" height="30" fill="#000"/>
<rect x="312" y="300" width="3" height="1" fill="#fff"/>
<rect x="312" y="302" width="3" height="1" fill="#fff"/>
<rect x="312" y="311" width="3" height="1" fill="#fff"/>
<rect x="312" y="313" width="3" height="1" fill="#fff"/>
<rect x="312" y="315" width="3" height="1" fill="#fff"/>
<rect x="312" y="317" width="3" height="1" fill="#fff"/>
<rect x="312" y="324" width="3" height="1" fill="#fff"/>
<rect x="312" y="326" width="3" height="1" fill="#fff"/>
<rect x="312" y="328" width="3" height="1" fill="#fff"/>
<rect x="312" y="330" width="3" height="1" fill="#fff"/>
<rect x="312" y="332" width="3" height="1" fill="#fff"/>
<rect x="312" y="334" width="3" height="1" fill="#fff"/>
<rect x="312" y="339" width="3" height="1" fill="#fff"/>
<rect x="312" y="341" width="3" height="1" fill="#fff"/>
<rect x="312" y="343" width="3" height="1" fill="#fff"/>
<rect x="312" y="345" width="3" height="1" fill="#fff"/>
<rect x="312" y="358" width="3" height="1" fill="#fff"/>
<rect x="312" y="360" width="3" height="1" fill="#fff"/>
<rect x="312" y="371" width="3" height="1" fill="#fff"/>
<rect x="312" y="373" width="3" height="1" fill="#fff"/>
<rect x="312" y="375" width="3" height="1" fill="#fff"/>
<rect x="312" y="439" width="3" height="1" fill="#fff"/>
<rect x="312" y="441" width="3" height="1" fill="#fff"/>
<rect x="312" y="454" width="3" height="1" fill="#fff"/>
<rect x="312" y="456" width="3" height="1" fill="#fff"/>
<rect x="312" y="467" width="3" height="1" fill="#fff"/>
<rect x="312" y="469" width="3" height="1" fill="#fff"/>
<rect x="312" y="471" width="3" height="1" fill="#fff"/>
<rect x="312" y="473" width="3" height="1" fill="#fff"/>
<rect x="312" y="475" width="3" height="1" fill="#fff"/>
<rect x="312" y="480" width="3" height="1" fill="#fff"/>
<rect x="312" y="490" width="3" height="1" fill="#fff"/>
<rect x="312" y="492" width="3" height="1" fill="#fff"/>
<rect x="312" y="501" width="3" height="1" fill="#fff"/>
<rect x="312" y="503" width="3" height="1" fill="#fff"/>
<rect x="312" y="505" width="3" height="1" fill="#fff"/>
<rect x="312" y="507" width="3" height="1" fill="#fff"/>
<rect x="312" y="513" width="3" height="1" fill="#fff"/>
<rect x="312" y="515" width="3" height="1" fill="#fff"/>
<polygon points="307,519 316,519 316,527 309,527 309,521 307,521" fill="#000"/>
<polygon points="310,522 315,522 315,526 311,526 311,524 310,524" fill="#fff"/>
<rect x="306" y="527" width="11" height="3" fill="#000"/>
<rect x="310" y="530" width="1" height="5" fill="#000"/>
<rect x="314" y="530" width="1" height="5" fill="#000"/>
<rect x="307" y="377" width="11" height="58" rx="1.5" fill="#fff" stroke="#000" stroke-width="2"/>
<text x="312.5" y="388.0" font-size="10" text-anchor="middle" >B</text>
<text x="312.5" y="399.3" font-size="10" text-anchor="middle" >A</text>
<text x="312.5" y="410.6" font-size="10" text-anchor="middle" >N</text>
<text x="312.5" y="421.9" font-size="10" text-anchor="middle" >K</text>
<text x="312.5" y="433.2" font-size="10" text-anchor="middle" >3</text>
<rect x="331" y="273" width="72" height="20" fill="#000"/>
<rect x="355" y="293" width="24" height="228" fill="#000"/>
<rect x="331" y="521" width="72" height="19" fill="#000"/>
<rect x="338" y="279" width="7" height="1" fill="#fff"/>
<rect x="339" y="280" width="7" height="1" fill="#fff"/>
<rect x="337" y="281" width="2" height="1" fill="#fff"/>
<rect x="343" y="281" width="3" height="1" fill="#fff"/>
<rect x="344" y="282" width="2" height="1" fill="#fff"/>
<rect x="337" y="283" width="2" height="1" fill="#fff"/>
<rect x="345" y="283" width="1" height="1" fill="#fff"/>
<rect x="337" y="284" width="3" height="1" fill="#fff"/>
<rect x="343" y="284" width="2" height="1" fill="#fff"/>
<rect x="338" y="285" width="3" height="1" fill="#fff"/>
<rect x="345" y="285" width="1" height="1" fill="#fff"/>
<rect x="338" y="286" width="6" height="1" fill="#fff"/>
<rect x="340" y="287" width="4" height="1" fill="#fff"/>
<rect x="391" y="279" width="7" height="1" fill="#fff"/>
<rect x="392" y="280" width="7" height="1" fill="#fff"/>
<rect x="390" y="281" width="2" height="1" fill="#fff"/>
<rect x="396" y="281" width="3" height="1" fill="#fff"/>
<rect x="397" y="282" width="2" height="1" fill="#fff"/>
<rect x="390" y="283" width="2" height="1" fill="#fff"/>
<rect x="398" y="283" width="1" height="1" fill="#fff"/>
<rect x="390" y="284" width="3" height="1" fill="#fff"/>
<rect x="396" y="284" width="2" height="1" fill="#fff"/>
<rect x="391" y="285" width="3" height="1" fill="#fff"/>
<rect x="398" y="285" width="1" height="1" fill="#fff"/>
<rect x="391" y="286" width="6" height="1" fill="#fff"/>
<rect x="393" y="287" width="4" height="1" fill="#fff"/>
<rect x="338" y="526" width="7" height="1" fill="#fff"/>
<rect x="339" y="527" width="7" height="1" fill="#fff"/>
<rect x="337" y="528" width="2" height="1" fill="#fff"/>
<rect x="343" y="528" width="3" height="1" fill="#fff"/>
<rect x="344" y="529" width="2" height="1" fill="#fff"/>
<rect x="337" y="530" width="2" height="1" fill="#fff"/>
<rect x="345" y="530" width="1" height="1" fill="#fff"/>
<rect x="337" y="531" width="3" height="1" fill="#fff"/>
<rect x="343" y="531" width="2" height="1" fill="#fff"/>
<rect x="338" y="532" width="3" height="1" fill="#fff"/>
<rect x="345" y="532" width="1" height="1" fill="#fff"/>
<rect x="338" y="533" width="6" height="1" fill="#fff"/>
<rect x="340" y="534" width="4" height="1" fill="#fff"/>
<rect x="390" y="526" width="7" height="1" fill="#fff"/>
<rect x="391" y="527" width="7" height="1" fill="#fff"/>
<rect x="389" y="528" width="2" height="1" fill="#fff"/>
<rect x="395" y="528" width="3" height="1" fill="#fff"/>
<rect x="396" y="529" width="2" height="1" fill="#fff"/>
<rect x="389" y="530" width="2" height="1" fill="#fff"/>
<rect x="397" y="530" width="1" height="1" fill="#fff"/>
<rect x="389" y="531" width="3" height="1" fill="#fff"/>
<rect x="395" y="531" width="2" height="1" fill="#fff"/>
<rect x="390" y="532" width="3" height="1" fill="#fff"/>
<rect x="397" y="532" width="1" height="1" fill="#fff"/>
<rect x="390" y="533" width="6" height="1" fill="#fff"/>
<rect x="392" y="534" width="4" height="1" fill="#fff"/>
<rect x="363" y="299" width="2" height="1" fill="#fff"/>
<rect x="363" y="301" width="2" height="1" fill="#fff"/>
<rect x="368" y="298" width="2" height="1" fill="#fff"/>
<rect x="368" y="300" width="2" height="1" fill="#fff"/>
<rect x="363" y="306" width="2" height="1" fill="#fff"/>
<rect x="363" y="308" width="2" height="1" fill="#fff"/>
<rect x="363" y="310" width="2" height="1" fill="#fff"/>
<rect x="368" y="305" width="2" height="1" fill="#fff"/>
<rect x="368" y="307" width="2" height="1" fill="#fff"/>
<rect x="368" y="309" width="2" height="1" fill="#fff"/>
<rect x="363" y="314" width="2" height="1" fill="#fff"/>
<rect x="363" y="316" width="2" height="1" fill="#fff"/>
<rect x="368" y="313" width="2" height="1" fill="#fff"/>
<rect x="368" y="315" width="2" height="1" fill="#fff"/>
<rect x="363" y="321" width="2" height="1" fill="#fff"/>
<rect x="363" y="323" width="2" height="1" fill="#fff"/>
<rect x="368" y="320" width="2" height="1" fill="#fff"/>
<rect x="368" y="322" width="2" height="1" fill="#fff"/>
<rect x="368" y="324" width="2" height="1" fill="#fff"/>
<rect x="363" y="329" width="2" height="1" fill="#fff"/>
<rect x="363" y="331" width="2" height="1" fill="#fff"/>
<rect x="363" y="333" width="2" height="1" fill="#fff"/>
<rect x="368" y="328" width="2" height="1" fill="#fff"/>
<rect x="368" y="330" width="2" height="1" fill="#fff"/>
<rect x="363" y="336" width="2" height="1" fill="#fff"/>
<rect x="363" y="338" width="2" height="1" fill="#fff"/>
<rect x="368" y="335" width="2" height="1" fill="#fff"/>
<rect x="368" y="337" width="2" height="1" fill="#fff"/>
<rect x="368" y="339" width="2" height="1" fill="#fff"/>
<rect x="363" y="344" width="2" height="1" fill="#fff"/>
<rect x="363" y="346" width="2" height="1" fill="#fff"/>
<rect x="368" y="343" width="2" height="1" fill="#fff"/>
<rect x="368" y="345" width="2" height="1" fill="#fff"/>
<rect x="363" y="351" width="2" height="1" fill="#fff"/>
<rect x="363" y="353" width="2" height="1" fill="#fff"/>
<rect x="363" y="355" width="2" height="1" fill="#fff"/>
<rect x="368" y="350" width="2" height="1" fill="#fff"/>
<rect x="368" y="352" width="2" height="1" fill="#fff"/>
<rect x="368" y="354" width="2" height="1" fill="#fff"/>
<rect x="363" y="359" width="2" height="1" fill="#fff"/>
<rect x="363" y="361" width="2" height="1" fill="#fff"/>
<rect x="368" y="358" width="2" height="1" fill="#fff"/>
<rect x="368" y="360" width="2" height="1" fill="#fff"/>
<rect x="363" y="366" width="2" height="1" fill="#fff"/>
<rect x="363" y="368" width="2" height="1" fill="#fff"/>
<rect x="368" y="365" width="2" height="1" fill="#fff"/>
<rect x="368" y="367" width="2" height="1" fill="#fff"/>
<rect x="368" y="369" width="2" height="1" fill="#fff"/>
<rect x="363" y="374" width="2" height="1" fill="#fff"/>
<rect x="363" y="376" width="2" height="1" fill="#fff"/>
<rect x="363" y="378" width="2" height="1" fill="#fff"/>
<rect x="368" y="373" width="2" height="1" fill="#fff"/>
<rect x="368" y="375" width="2" height="1" fill="#fff"/>
<rect x="363" y="381" width="2" height="1" fill="#fff"/>
<rect x="363" y="383" width="2" height="1" fill="#fff"/>
<rect x="368" y="380" width="2" height="1" fill="#fff"/>
<rect x="368" y="382" width="2" height="1" fill="#fff"/>
<rect x="368" y="384" width="2" height="1" fill="#fff"/>
<rect x="363" y="389" width="2" height="1" fill="#fff"/>
<rect x="363" y="391" width="2" height="1" fill="#fff"/>
<rect x="368" y="388" width="2" height="1" fill="#fff"/>
<rect x="368" y="390" width="2" height="1" fill="#fff"/>
<rect x="363" y="396" width="2" height="1" fill="#fff"/>
<rect x="363" y="398" width="2" height="1" fill="#fff"/>
<rect x="363" y="400" width="2" height="1" fill="#fff"/>
<rect x="368" y="395" width="2" height="1" fill="#fff"/>
<rect x="368" y="397" width="2" height="1" fill="#fff"/>
<rect x="368" y="399" width="2" height="1" fill="#fff"/>
<rect x="363" y="404" width="2" height="1" fill="#fff"/>
<rect x="363" y="406" width="2" height="1" fill="#fff"/>
<rect x="368" y="403" width="2" height="1" fill="#fff"/>
<rect x="368" y="405" width="2" height="1" fill="#fff"/>
<rect x="363" y="411" width="2" height="1" fill="#fff"/>
<rect x="363" y="413" width="2" height="1" fill="#fff"/>
<rect x="368" y="410" width="2" height="1" fill="#fff"/>
<rect x="368" y="412" width="2" height="1" fill="#fff"/>
<rect x="368" y="414" width="2" height="1" fill="#fff"/>
<rect x="363" y="419" width="2" height="1" fill="#fff"/>
<rect x="363" y="421" width="2" height="1" fill="#fff"/>
<rect x="363" y="423" width="2" height="1" fill="#fff"/>
<rect x="368" y="418" width="2" height="1" fill="#fff"/>
<rect x="368" y="420" width="2" height="1" fill="#fff"/>
<rect x="363" y="426" width="2" height="1" fill="#fff"/>
<rect x="363" y="428" width="2" height="1" fill="#fff"/>
<rect x="368" y="425" width="2" height="1" fill="#fff"/>
<rect x="368" y="427" width="2" height="1" fill="#fff"/>
<rect x="368" y="429" width="2" height="1" fill="#fff"/>
<rect x="363" y="434" width="2" height="1" fill="#fff"/>
<rect x="363" y="436" width="2" height="1" fill="#fff"/>
<rect x="368" y="433" width="2" height="1" fill="#fff"/>
<rect x="368" y="435" width="2" height="1" fill="#fff"/>
<rect x="363" y="441" width="2" height="1" fill="#fff"/>
<rect x="363" y="443" width="2" height="1" fill="#fff"/>
<rect x="363" y="445" width="2" height="1" fill="#fff"/>
<rect x="368" y="440" width="2" height="1" fill="#fff"/>
<rect x="368" y="442" width="2" height="1" fill="#fff"/>
<rect x="368" y="444" width="2" height="1" fill="#fff"/>
<rect x="363" y="449" width="2" height="1" fill="#fff"/>
<rect x="363" y="451" width="2" height="1" fill="#fff"/>
<rect x="368" y="448" width="2" height="1" fill="#fff"/>
<rect x="368" y="450" width="2" height="1" fill="#fff"/>
<rect x="363" y="456" width="2" height="1" fill="#fff"/>
<rect x="363" y="458" width="2" height="1" fill="#fff"/>
<rect x="368" y="455" width="2" height="1" fill="#fff"/>
<rect x="368" y="457" width="2" height="1" fill="#fff"/>
<rect x="368" y="459" width="2" height="1" fill="#fff"/>
<rect x="363" y="464" width="2" height="1" fill="#fff"/>
<rect x="363" y="466" width="2" height="1" fill="#fff"/>
<rect x="363" y="468" width="2" height="1" fill="#fff"/>
<rect x="368" y="463" width="2" height="1" fill="#fff"/>
<rect x="368" y="465" width="2" height="1" fill="#fff"/>
<rect x="363" y="471" width="2" height="1" fill="#fff"/>
<rect x="363" y="473" width="2" height="1" fill="#fff"/>
<rect x="368" y="470" width="2" height="1" fill="#fff"/>
<rect x="368" y="472" width="2" height="1" fill="#fff"/>
<rect x="368" y="474" width="2" height="1" fill="#fff"/>
<rect x="363" y="479" width="2" height="1" fill="#fff"/>
<rect x="363" y="481" width="2" height="1" fill="#fff"/>
<rect x="368" y="478" width="2" height="1" fill="#fff"/>
<rect x="368" y="480" width="2" height="1" fill="#fff"/>
<rect x="363" y="486" width="2" height="1" fill="#fff"/>
<rect x="363" y="488" width="2" height="1" fill="#fff"/>
<rect x="363" y="490" width="2" height="1" fill="#fff"/>
<rect x="368" y="485" width="2" height="1" fill="#fff"/>
<rect x="368" y="487" width="2" height="1" fill="#fff"/>
<rect x="368" y="489" width="2" height="1" fill="#fff"/>
<rect x="363" y="494" width="2" height="1" fill="#fff"/>
<rect x="363" y="496" width="2" height="1" fill="#fff"/>
<rect x="368" y="493" width="2" height="1" fill="#fff"/>
<rect x="368" y="495" width="2" height="1" fill="#fff"/>
<rect x="363" y="501" width="2" height="1" fill="#fff"/>
<rect x="363" y="503" width="2" height="1" fill="#fff"/>
<rect x="368" y="500" width="2" height="1" fill="#fff"/>
<rect x="368" y="502" width="2" height="1" fill="#fff"/>
<rect x="368" y="504" width="2" height="1" fill="#fff"/>
<rect x="363" y="509" width="2" height="1" fill="#fff"/>
<rect x="363" y="511" width="2" height="1" fill="#fff"/>
<rect x="363" y="513" width="2" height="1" fill="#fff"/>
<rect x="368" y="508" width="2" height="1" fill="#fff"/>
<rect x="368" y="510" width="2" height="1" fill="#fff"/>
<rect x="426" y="272" width="72" height="20" fill="#000"/>
<rect x="450" y="292" width="24" height="228" fill="#000"/>
<rect x="426" y="520" width="72" height="19" fill="#000"/>
<rect x="433" y="278" width="7" height="1" fill="#fff"/>
<rect x="434" y="279" width="7" height="1" fill="#fff"/>
<rect x="432" y="280" width="2" height="1" fill="#fff"/>
<rect x="438" y="280" width="3" height="1" fill="#fff"/>
<rect x="439" y="281" width="2" height="1" fill="#fff"/>
<rect x="432" y="282" width="2" height="1" fill="#fff"/>
<rect x="440" y="282" width="1" height="1" fill="#fff"/>
<rect x="432" y="283" width="3" height="1" fill="#fff"/>
<rect x="438" y="283" width="2" height="1" fill="#fff"/>
<rect x="433" y="284" width="3" height="1" fill="#fff"/>
<rect x="440" y="284" width="1" height="1" fill="#fff"/>
<rect x="433" y="285" width="6" height="1" fill="#fff"/>
<rect x="435" y="286" width="4" height="1" fill="#fff"/>
<rect x="486" y="278" width="7" height="1" fill="#fff"/>
<rect x="487" y="279" width="7" height="1" fill="#fff"/>
<rect x="485" y="280" width="2" height="1" fill="#fff"/>
<rect x="491" y="280" width="3" height="1" fill="#fff"/>
<rect x="492" y="281" width="2" height="1" fill="#fff"/>
<rect x="485" y="282" width="2" height="1" fill="#fff"/>
<rect x="493" y="282" width="1" height="1" fill="#fff"/>
<rect x="485" y="283" width="3" height="1" fill="#fff"/>
<rect x="491" y="283" width="2" height="1" fill="#fff"/>
<rect x="486" y="284" width="3" height="1" fill="#fff"/>
<rect x="493" y="284" width="1" height="1" fill="#fff"/>
<rect x="486" y="285" width="6" height="1" fill="#fff"/>
<rect x="488" y="286" width="4" height="1" fill="#fff"/>
<rect x="433" y="526" width="7" height="1" fill="#fff"/>
<rect x="434" y="527" width="7" height="1" fill="#fff"/>
<rect x="432" y="528" width="2" height="1" fill="#fff"/>
<rect x="438" y="528" width="3" height="1" fill="#fff"/>
<rect x="439" y="529" width="2" height="1" fill="#fff"/>
<rect x="432" y="530" width="2" height="1" fill="#fff"/>
<rect x="440" y="530" width="1" height="1" fill="#fff"/>
<rect x="432" y="531" width="3" height="1" fill="#fff"/>
<rect x="438" y="531" width="2" height="1" fill="#fff"/>
<rect x="433" y="532" width="3" height="1" fill="#fff"/>
<rect x="440" y="532" width="1" height="1" fill="#fff"/>
<rect x="433" y="533" width="6" height="1" fill="#fff"/>
<rect x="435" y="534" width="4" height="1" fill="#fff"/>
<rect x="485" y="526" width="7" height="1" fill="#fff"/>
<rect x="486" y="527" width="7" height="1" fill="#fff"/>
<rect x="484" y="528" width="2" height="1" fill="#fff"/>
<rect x="490" y="528" width="3" height="1" fill="#fff"/>
<rect x="491" y="529" width="2" height="1" fill="#fff"/>
<rect x="484" y="530" width="2" height="1" fill="#fff"/>
<rect x="492" y="530" width="1" height="1" fill="#fff"/>
<rect x="484" y="531" width="3" height="1" fill="#fff"/>
<rect x="490" y="531" width="2" height="1" fill="#fff"/>
<rect x="485" y="532" width="3" height="1" fill="#fff"/>
<rect x="492" y="532" width="1" height="1" fill="#fff"/>
<rect x="485" y="533" width="6" height="1" fill="#fff"/>
<rect x="487" y="534" width="4" height="1" fill="#fff"/>
<rect x="458" y="299" width="2" height="1" fill="#fff"/>
<rect x="458" y="301" width="2" height="1" fill="#fff"/>
<rect x="463" y="298" width="2" height="1" fill="#fff"/>
<rect x="463" y="300" width="2" height="1" fill="#fff"/>
<rect x="458" y="306" width="2" height="1" fill="#fff"/>
<rect x="458" y="308" width="2" height="1" fill="#fff"/>
<rect x="458" y="310" width="2" height="1" fill="#fff"/>
<rect x="463" y="305" width="2" height="1" fill="#fff"/>
<rect x="463" y="307" width="2" height="1" fill="#fff"/>
<rect x="463" y="309" width="2" height="1" fill="#fff"/>
<rect x="458" y="314" width="2" height="1" fill="#fff"/>
<rect x="458" y="316" width="2" height="1" fill="#fff"/>
<rect x="463" y="313" width="2" height="1" fill="#fff"/>
<rect x="463" y="315" width="2" height="1" fill="#fff"/>
<rect x="458" y="321" width="2" height="1" fill="#fff"/>
<rect x="458" y="323" width="2" height="1" fill="#fff"/>
<rect x="463" y="320" width="2" height="1" fill="#fff"/>
<rect x="463" y="322" width="2" height="1" fill="#fff"/>
<rect x="463" y="324" width="2" height="1" fill="#fff"/>
<rect x="458" y="329" width="2" height="1" fill="#fff"/>
<rect x="458" y="331" width="2" height="1" fill="#fff"/>
<rect x="458" y="333" width="2" height="1" fill="#fff"/>
<rect x="463" y="328" width="2" height="1" fill="#fff"/>
<rect x="463" y="330" width="2" height="1" fill="#fff"/>
<rect x="458" y="336" width="2" height="1" fill="#fff"/>
<rect x="458" y="338" width="2" height="1" fill="#fff"/>
<rect x="463" y="335" width="2" height="1" fill="#fff"/>
<rect x="463" y="337" width="2" height="1" fill="#fff"/>
<rect x="463" y="339" width="2" height="1" fill="#fff"/>
<rect x="458" y="344" width="2" height="1" fill="#fff"/>
<rect x="458" y="346" width="2" height="1" fill="#fff"/>
<rect x="463" y="343" width="2" height="1" fill="#fff"/>
<rect x="463" y="345" width="2" height="1" fill="#fff"/>
<rect x="458" y="351" width="2" height="1" fill="#fff"/>
<rect x="458" y="353" width="2" height="1" fill="#fff"/>
<rect x="458" y="355" width="2" height="1" fill="#fff"/>
<rect x="463" y="350" width="2" height="1" fill="#fff"/>
<rect x="463" y="352" width="2" height="1" fill="#fff"/>
<rect x="463" y="354" width="2" height="1" fill="#fff"/>
<rect x="458" y="359" width="2" height="1" fill="#fff"/>
<rect x="458" y="361" width="2" height="1" fill="#fff"/>
<rect x="463" y="358" width="2" height="1" fill="#fff"/>
<rect x="463" y="360" width="2" height="1" fill="#fff"/>
<rect x="458" y="366" width="2" height="1" fill="#fff"/>
<rect x="458" y="368" width="2" height="1" fill="#fff"/>
<rect x="463" y="365" width="2" height="1" fill="#fff"/>
<rect x="463" y="367" width="2" height="1" fill="#fff"/>
<rect x="463" y="369" width="2" height="1" fill="#fff"/>
<rect x="458" y="374" width="2" height="1" fill="#fff"/>
<rect x="458" y="376" width="2" height="1" fill="#fff"/>
<rect x="458" y="378" width="2" height="1" fill="#fff"/>
<rect x="463" y="373" width="2" height="1" fill="#fff"/>
<rect x="463" y="375" width="2" height="1" fill="#fff"/>
<rect x="458" y="381" width="2" height="1" fill="#fff"/>
<rect x="458" y="383" width="2" height="1" fill="#fff"/>
<rect x="463" y="380" width="2" height="1" fill="#fff"/>
<rect x="463" y="382" width="2" height="1" fill="#fff"/>
<rect x="463" y="384" width="2" height="1" fill="#fff"/>
<rect x="458" y="389" width="2" height="1" fill="#fff"/>
<rect x="458" y="391" width="2" height="1" fill="#fff"/>
<rect x="463" y="388" width="2" height="1" fill="#fff"/>
<rect x="463" y="390" width="2" height="1" fill="#fff"/>
<rect x="458" y="396" width="2" height="1" fill="#fff"/>
<rect x="458" y="398" width="2" height="1" fill="#fff"/>
<rect x="458" y="400" width="2" height="1" fill="#fff"/>
<rect x="463" y="395" width="2" height="1" fill="#fff"/>
<rect x="463" y="397" width="2" height="1" fill="#fff"/>
<rect x="463" y="399" width="2" height="1" fill="#fff"/>
<rect x="458" y="404" width="2" height="1" fill="#fff"/>
<rect x="458" y="406" width="2" height="1" fill="#fff"/>
<rect x="463" y="403" width="2" height="1" fill="#fff"/>
<rect x="463" y="405" width="2" height="1" fill="#fff"/>
<rect x="458" y="411" width="2" height="1" fill="#fff"/>
<rect x="458" y="413" width="2" height="1" fill="#fff"/>
<rect x="463" y="410" width="2" height="1" fill="#fff"/>
<rect x="463" y="412" width="2" height="1" fill="#fff"/>
<rect x="463" y="414" width="2" height="1" fill="#fff"/>
<rect x="458" y="419" width="2" height="1" fill="#fff"/>
<rect x="458" y="421" width="2" height="1" fill="#fff"/>
<rect x="458" y="423" width="2" height="1" fill="#fff"/>
<rect x="463" y="418" width="2" height="1" fill="#fff"/>
<rect x="463" y="420" width="2" height="1" fill="#fff"/>
<rect x="458" y="426" width="2" height="1" fill="#fff"/>
<rect x="458" y="428" width="2" height="1" fill="#fff"/>
<rect x="463" y="425" width="2" height="1" fill="#fff"/>
<rect x="463" y="427" width="2" height="1" fill="#fff"/>
<rect x="463" y="429" width="2" height="1" fill="#fff"/>
<rect x="458" y="434" width="2" height="1" fill="#fff"/>
<rect x="458" y="436" width="2" height="1" fill="#fff"/>
<rect x="463" y="433" width="2" height="1" fill="#fff"/>
<rect x="463" y="435" width="2" height="1" fill="#fff"/>
<rect x="458" y="441" width="2" height="1" fill="#fff"/>
<rect x="458" y="443" width="2" height="1" fill="#fff"/>
<rect x="458" y="445" width="2" height="1" fill="#fff"/>
<rect x="463" y="440" width="2" height="1" fill="#fff"/>
<rect x="463" y="442" width="2" height="1" fill="#fff"/>
<rect x="463" y="444" width="2" height="1" fill="#fff"/>
<rect x="458" y="449" width="2" height="1" fill="#fff"/>
<rect x="458" y="451" width="2" height="1" fill="#fff"/>
<rect x="463" y="448" width="2" height="1" fill="#fff"/>
<rect x="463" y="450" width="2" height="1" fill="#fff"/>
<rect x="458" y="456" width="2" height="1" fill="#fff"/>
<rect x="458" y="458" width="2" height="1" fill="#fff"/>
<rect x="463" y="455" width="2" height="1" fill="#fff"/>
<rect x="463" y="457" width="2" height="1" fill="#fff"/>
<rect x="463" y="459" width="2" height="1" fill="#fff"/>
<rect x="458" y="464" width="2" height="1" fill="#fff"/>
<rect x="458" y="466" width="2" height="1" fill="#fff"/>
<rect x="458" y="468" width="2" height="1" fill="#fff"/>
<rect x="463" y="463" width="2" height="1" fill="#fff"/>
<rect x="463" y="465" width="2" height="1" fill="#fff"/>
<rect x="458" y="471" width="2" height="1" fill="#fff"/>
<rect x="458" y="473" width="2" height="1" fill="#fff"/>
<rect x="463" y="470" width="2" height="1" fill="#fff"/>
<rect x="463" y="472" width="2" height="1" fill="#fff"/>
<rect x="463" y="474" width="2" height="1" fill="#fff"/>
<rect x="458" y="479" width="2" height="1" fill="#fff"/>
<rect x="458" y="481" width="2" height="1" fill="#fff"/>
<rect x="463" y="478" width="2" height="1" fill="#fff"/>
<rect x="463" y="480" width="2" height="1" fill="#fff"/>
<rect x="458" y="486" width="2" height="1" fill="#fff"/>
<rect x="458" y="488" width="2" height="1" fill="#fff"/>
<rect x="458" y="490" width="2" height="1" fill="#fff"/>
<rect x="463" y="485" width="2" height="1" fill="#fff"/>
<rect x="463" y="487" width="2" height="1" fill="#fff"/>
<rect x="463" y="489" width="2" height="1" fill="#fff"/>
<rect x="458" y="494" width="2" height="1" fill="#fff"/>
<rect x="458" y="496" width="2" height="1" fill="#fff"/>
<rect x="463" y="493" width="2" height="1" fill="#fff"/>
<rect x="463" y="495" width="2" height="1" fill="#fff"/>
<rect x="458" y="501" width="2" height="1" fill="#fff"/>
<rect x="458" y="503" width="2" height="1" fill="#fff"/>
<rect x="463" y="500" width="2" height="1" fill="#fff"/>
<rect x="463" y="502" width="2" height="1" fill="#fff"/>
<rect x="463" y="504" width="2" height="1" fill="#fff"/>
<rect x="458" y="509" width="2" height="1" fill="#fff"/>
<rect x="458" y="511" width="2" height="1" fill="#fff"/>
<rect x="458" y="513" width="2" height="1" fill="#fff"/>
<rect x="463" y="508" width="2" height="1" fill="#fff"/>
<rect x="463" y="510" width="2" height="1" fill="#fff"/>
<rect x="356" y="274" width="23" height="1" fill="#fff"/>
<rect x="356" y="274" width="1" height="16" fill="#fff"/>
<rect x="378" y="274" width="1" height="16" fill="#fff"/>
<rect x="358" y="276" width="19" height="1" fill="#fff"/>
<rect x="358" y="276" width="1" height="14" fill="#fff"/>
<rect x="376" y="276" width="1" height="14" fill="#fff"/>
<rect x="355" y="538" width="24" height="1" fill="#fff"/>
<rect x="355" y="523" width="1" height="16" fill="#fff"/>
<rect x="378" y="523" width="1" height="16" fill="#fff"/>
<rect x="357" y="536" width="20" height="1" fill="#fff"/>
<rect x="357" y="523" width="1" height="14" fill="#fff"/>
<rect x="376" y="523" width="1" height="14" fill="#fff"/>
<rect x="450" y="273" width="13" height="1" fill="#fff"/>
<rect x="450" y="273" width="1" height="17" fill="#fff"/>
<rect x="452" y="275" width="11" height="1" fill="#fff"/>
<rect x="452" y="275" width="1" height="15" fill="#fff"/>
<rect x="472" y="275" width="1" height="15" fill="#fff"/>
<rect x="474" y="275" width="1" height="15" fill="#fff"/>
<rect x="341" y="550" width="82" height="20" fill="#000"/>
<rect x="342" y="551" width="80" height="18" fill="#fff"/>
<rect x="346.5" y="553.5" width="5" height="5.5" fill="#fff" stroke="#000" stroke-width="1.2"/>
<rect x="346.5" y="561.5" width="5" height="5.5" fill="#fff" stroke="#000" stroke-width="1.2"/>
<rect x="354.0" y="553.5" width="5" height="5.5" fill="#fff" stroke="#000" stroke-width="1.2"/>
<rect x="354.0" y="561.5" width="5" height="5.5" fill="#fff" stroke="#000" stroke-width="1.2"/>
<rect x="361.5" y="553.5" width="5" height="5.5" fill="#fff" stroke="#000" stroke-width="1.2"/>
<rect x="361.5" y="561.5" width="5" height="5.5" fill="#fff" stroke="#000" stroke-width="1.2"/>
<rect x="369.0" y="553.5" width="5" height="5.5" fill="#fff" stroke="#000" stroke-width="1.2"/>
<rect x="369.0" y="561.5" width="5" height="5.5" fill="#fff" stroke="#000" stroke-width="1.2"/>
<rect x="376.5" y="553.5" width="5" height="5.5" fill="#fff" stroke="#000" stroke-width="1.2"/>
<rect x="376.5" y="561.5" width="5" height="5.5" fill="#fff" stroke="#000" stroke-width="1.2"/>
<rect x="384.0" y="553.5" width="5" height="5.5" fill="#fff" stroke="#000" stroke-width="1.2"/>
<rect x="384.0" y="561.5" width="5" height="5.5" fill="#fff" stroke="#000" stroke-width="1.2"/>
<rect x="391.5" y="553.5" width="5" height="5.5" fill="#fff" stroke="#000" stroke-width="1.2"/>
<rect x="391.5" y="561.5" width="5" height="5.5" fill="#fff" stroke="#000" stroke-width="1.2"/>
<rect x="399.0" y="553.5" width="5" height="5.5" fill="#fff" stroke="#000" stroke-width="1.2"/>
<rect x="399.0" y="561.5" width="5" height="5.5" fill="#fff" stroke="#000" stroke-width="1.2"/>
<rect x="406.5" y="553.5" width="5" height="5.5" fill="#fff" stroke="#000" stroke-width="1.2"/>
<rect x="406.5" y="561.5" width="5" height="5.5" fill="#fff" stroke="#000" stroke-width="1.2"/>
<rect x="414.0" y="553.5" width="5" height="5.5" fill="#fff" stroke="#000" stroke-width="1.2"/>
<rect x="414.0" y="561.5" width="5" height="5.5" fill="#fff" stroke="#000" stroke-width="1.2"/>
<rect x="444" y="550" width="45" height="20" fill="#000"/>
<rect x="445" y="551" width="43" height="18" fill="#fff"/>
<rect x="445" y="554" width="43" height="4" fill="#000"/>
<rect x="447" y="556" width="5" height="1" fill="#fff"/>
<rect x="454" y="556" width="5" height="1" fill="#fff"/>
<rect x="461" y="556" width="5" height="1" fill="#fff"/>
<rect x="468" y="556" width="5" height="1" fill="#fff"/>
<rect x="475" y="556" width="5" height="1" fill="#fff"/>
<rect x="482" y="556" width="5" height="1" fill="#fff"/>
<rect x="445" y="559" width="43" height="1" fill="#000"/>
<rect x="447.5" y="561.5" width="5" height="6" fill="#fff" stroke="#000" stroke-width="1"/>
<rect x="454.5" y="561.5" width="5" height="6" fill="#fff" stroke="#000" stroke-width="1"/>
<rect x="461.5" y="561.5" width="5" height="6" fill="#fff" stroke="#000" stroke-width="1"/>
<rect x="468.5" y="561.5" width="5" height="6" fill="#fff" stroke="#000" stroke-width="1"/>
<rect x="475.5" y="561.5" width="5" height="6" fill="#fff" stroke="#000" stroke-width="1"/>
<rect x="482.5" y="561.5" width="5" height="6" fill="#fff" stroke="#000" stroke-width="1"/>
<rect x="567" y="281" width="29" height="18" fill="#000"/>
<rect x="570" y="285" width="24" height="10" fill="#fff"/>
<path d="M593,287 H577 A3.5,3.5 0 0 0 577,294 H593" fill="none" stroke="#000" stroke-width="2"/>
<rect x="594.5" y="285.5" width="13" height="8" fill="#fff" stroke="#000" stroke-width="1"/>
<rect x="559" y="311" width="37" height="17" fill="#000"/>
<rect x="562" y="314" width="24" height="11" fill="#fff"/>
<text x="574" y="323.5" font-size="11" text-anchor="middle" >CN2</text>
<rect x="587.5" y="314.5" width="21" height="9" fill="#fff" stroke="#000" stroke-width="1"/>
<rect x="599" y="314" width="1" height="10" fill="#000"/>
<rect x="591" y="332" width="5" height="7" fill="#000"/>
<rect x="573" y="339" width="29" height="25" fill="#000"/>
<rect x="576" y="346" width="23" height="11" fill="#fff"/>
<text x="587" y="355" font-size="11" text-anchor="middle" >CN4</text>
<rect x="591" y="364" width="5" height="11" fill="#000"/>
<polygon points="560,388 567,388 567,383 575,383 575,381 580,381 580,379 584,379 589,379 589,375 591,375 591,370 596,370 596,389 595,389 595,461 584,461 584,469 580,469 580,462 560,462" fill="#000"/>
<rect x="581" y="380" width="2" height="88" fill="#fff"/>
<rect x="583.5" y="388.5" width="11" height="72" fill="#fff" stroke="#000" stroke-width="1"/>
<path d="M594.5,383.5 H606 Q607.5,383.5 607.5,385 V416 Q607.5,417.5 606,417.5 H594.5" fill="#fff" stroke="#000" stroke-width="1"/>
<path d="M594.5,426.5 H606 Q607.5,426.5 607.5,428 V459 Q607.5,460.5 606,460.5 H594.5" fill="#fff" stroke="#000" stroke-width="1"/>
<rect x="595.5" y="377.5" width="7" height="4" fill="#fff" stroke="#000" stroke-width="1"/>
<rect x="595.5" y="419.5" width="7" height="4" fill="#fff" stroke="#000" stroke-width="1"/>
<rect x="595.5" y="463.5" width="7" height="4" fill="#fff" stroke="#000" stroke-width="1"/>
<rect x="575.5" y="463.5" width="7" height="4" fill="#fff" stroke="#000" stroke-width="1"/>
<rect x="594" y="370" width="2" height="100" fill="#000"/>
<rect x="537.5" y="485.5" width="33" height="32" fill="#fff" stroke="#000" stroke-width="1"/>
<path d="M595.5,479.5 H575 Q570.5,479.5 570.5,484 V518 Q570.5,522.5 575,522.5 H595.5" fill="#fff" stroke="#000" stroke-width="1"/>
<rect x="595" y="479" width="1" height="44" fill="#000"/>
<rect x="586" y="480" width="1" height="42" fill="#000"/>
<rect x="556.5" y="532.5" width="26" height="33" fill="#fff" stroke="#000" stroke-width="1"/>
<rect x="556" y="558" width="27" height="1" fill="#000"/>
<polygon points="591,528 596,528 596,570 591,570 591,568 589,568 589,561 582,561 582,535 589,535 589,532 591,532" fill="#000"/>
<polygon points="119,8 149,8 151,10 151,22 149,24 119,24 117,22 117,10" fill="#000"/>
<polygon points="120,10 148,10 149,11 149,21 148,22 120,22 119,21 119,11" fill="#fff"/>
<rect x="151" y="13" width="2" height="6" fill="#000"/>
<rect x="153" y="14" width="4" height="4" fill="#000"/>
<rect x="157" y="15" width="3" height="2" fill="#000"/>
<rect x="160" y="15" width="2" height="2" fill="#000"/>
<rect x="149" y="15" width="5" height="1" fill="#fff"/>
<text x="134.2" y="19.0" font-size="10" text-anchor="middle" letter-spacing="0.25">J9A1</text>
<polygon points="167,49 201,49 203,51 203,60 201,62 167,62 165,60 165,51" fill="#000"/>
<polygon points="168,51 200,51 201,52 201,59 200,60 168,60 167,59 167,52" fill="#fff"/>
<rect x="163" y="52" width="2" height="6" fill="#000"/>
<rect x="159" y="53" width="4" height="4" fill="#000"/>
<rect x="156" y="54" width="3" height="2" fill="#000"/>
<rect x="153" y="54" width="3" height="2" fill="#000"/>
<rect x="162" y="54" width="5" height="1" fill="#fff"/>
<text x="184.2" y="58.5" font-size="10" text-anchor="middle" letter-spacing="0.25">J10A1</text>
<polygon points="10,49 45,49 47,51 47,63 45,65 10,65 8,63 8,51" fill="#000"/>
<polygon points="11,51 44,51 45,52 45,62 44,63 11,63 10,62 10,52" fill="#fff"/>
<rect x="47" y="54" width="2" height="6" fill="#000"/>
<rect x="49" y="55" width="4" height="4" fill="#000"/>
<rect x="53" y="56" width="3" height="2" fill="#000"/>
<rect x="56" y="56" width="3" height="2" fill="#000"/>
<rect x="45" y="56" width="5" height="1" fill="#fff"/>
<text x="27.7" y="60.0" font-size="10" text-anchor="middle" letter-spacing="0.25">J12A1</text>
<polygon points="10,70 45,70 47,72 47,83 45,85 10,85 8,83 8,72" fill="#000"/>
<polygon points="11,72 44,72 45,73 45,82 44,83 11,83 10,82 10,73" fill="#fff"/>
<rect x="47" y="74" width="2" height="6" fill="#000"/>
<rect x="49" y="75" width="4" height="4" fill="#000"/>
<rect x="53" y="76" width="3" height="2" fill="#000"/>
<rect x="56" y="76" width="3" height="2" fill="#000"/>
<rect x="45" y="76" width="5" height="1" fill="#fff"/>
<text x="27.7" y="80.5" font-size="10" text-anchor="middle" letter-spacing="0.25">J12B2</text>
<polygon points="130,94 164,94 166,96 166,106 164,108 130,108 128,106 128,96" fill="#000"/>
<polygon points="131,96 163,96 164,97 164,105 163,106 131,106 130,105 130,97" fill="#fff"/>
<rect x="126" y="98" width="2" height="6" fill="#000"/>
<rect x="122" y="99" width="4" height="4" fill="#000"/>
<rect x="119" y="100" width="3" height="2" fill="#000"/>
<rect x="116" y="100" width="3" height="2" fill="#000"/>
<rect x="125" y="100" width="5" height="1" fill="#fff"/>
<text x="147.2" y="104.0" font-size="10" text-anchor="middle" letter-spacing="0.25">J11B1</text>
<polygon points="9,144 44,144 46,146 46,157 44,159 9,159 7,157 7,146" fill="#000"/>
<polygon points="10,146 43,146 44,147 44,156 43,157 10,157 9,156 9,147" fill="#fff"/>
<rect x="46" y="148" width="2" height="6" fill="#000"/>
<rect x="48" y="149" width="4" height="4" fill="#000"/>
<rect x="52" y="150" width="3" height="2" fill="#000"/>
<rect x="55" y="150" width="2" height="2" fill="#000"/>
<rect x="44" y="150" width="5" height="1" fill="#fff"/>
<text x="26.7" y="154.5" font-size="10" text-anchor="middle" letter-spacing="0.25">J12E1</text>
<polygon points="95,185 129,185 131,187 131,198 129,200 95,200 93,198 93,187" fill="#000"/>
<polygon points="96,187 128,187 129,188 129,197 128,198 96,198 95,197 95,188" fill="#fff"/>
<rect x="91" y="189" width="2" height="6" fill="#000"/>
<rect x="87" y="190" width="4" height="4" fill="#000"/>
<rect x="84" y="191" width="3" height="2" fill="#000"/>
<rect x="80" y="191" width="4" height="2" fill="#000"/>
<rect x="90" y="191" width="5" height="1" fill="#fff"/>
<text x="112.2" y="195.5" font-size="10" text-anchor="middle" letter-spacing="0.25">J12D1</text>
<polygon points="170,206 205,206 207,208 207,219 205,221 170,221 168,219 168,208" fill="#000"/>
<polygon points="171,208 204,208 205,209 205,218 204,219 171,219 170,218 170,209" fill="#fff"/>
<rect x="166" y="210" width="2" height="6" fill="#000"/>
<rect x="162" y="211" width="4" height="4" fill="#000"/>
<rect x="159" y="212" width="3" height="2" fill="#000"/>
<rect x="157" y="212" width="2" height="2" fill="#000"/>
<rect x="165" y="212" width="5" height="1" fill="#fff"/>
<text x="187.7" y="216.5" font-size="10" text-anchor="middle" letter-spacing="0.25">J10D1</text>
<polygon points="4,223 39,223 41,225 41,237 39,239 4,239 2,237 2,225" fill="#000"/>
<polygon points="5,225 38,225 39,226 39,236 38,237 5,237 4,236 4,226" fill="#fff"/>
<rect x="41" y="228" width="2" height="6" fill="#000"/>
<rect x="43" y="229" width="4" height="4" fill="#000"/>
<rect x="47" y="230" width="3" height="2" fill="#000"/>
<rect x="50" y="230" width="3" height="2" fill="#000"/>
<rect x="39" y="230" width="5" height="1" fill="#fff"/>
<text x="21.7" y="234.0" font-size="10" text-anchor="middle" letter-spacing="0.25">J10E1</text>
<polygon points="22,242 57,242 59,244 59,255 57,257 22,257 20,255 20,244" fill="#000"/>
<polygon points="23,244 56,244 57,245 57,254 56,255 23,255 22,254 22,245" fill="#fff"/>
<rect x="59" y="246" width="2" height="6" fill="#000"/>
<rect x="61" y="247" width="4" height="4" fill="#000"/>
<rect x="65" y="248" width="3" height="2" fill="#000"/>
<rect x="68" y="248" width="2" height="2" fill="#000"/>
<rect x="57" y="248" width="5" height="1" fill="#fff"/>
<text x="39.7" y="252.5" font-size="10" text-anchor="middle" letter-spacing="0.25">J10F1</text>
<polygon points="217,181 246,181 248,183 248,194 246,196 217,196 215,194 215,183" fill="#000"/>
<polygon points="218,183 245,183 246,184 246,193 245,194 218,194 217,193 217,184" fill="#fff"/>
<rect x="248" y="185" width="2" height="6" fill="#000"/>
<rect x="250" y="186" width="4" height="4" fill="#000"/>
<rect x="254" y="187" width="3" height="2" fill="#000"/>
<rect x="257" y="187" width="2" height="2" fill="#000"/>
<rect x="246" y="187" width="5" height="1" fill="#fff"/>
<text x="231.7" y="191.5" font-size="10" text-anchor="middle" letter-spacing="0.25">J6D1</text>
<polygon points="221,224 251,224 253,226 253,237 251,239 221,239 219,237 219,226" fill="#000"/>
<polygon points="222,226 250,226 251,227 251,236 250,237 222,237 221,236 221,227" fill="#fff"/>
<rect x="253" y="228" width="2" height="6" fill="#000"/>
<rect x="255" y="229" width="4" height="4" fill="#000"/>
<rect x="259" y="230" width="3" height="2" fill="#000"/>
<rect x="262" y="230" width="2" height="2" fill="#000"/>
<rect x="251" y="230" width="5" height="1" fill="#fff"/>
<text x="236.2" y="234.5" font-size="10" text-anchor="middle" letter-spacing="0.25">J7E1</text>
<polygon points="181,259 210,259 212,261 212,272 210,274 181,274 179,272 179,261" fill="#000"/>
<polygon points="182,261 209,261 210,262 210,271 209,272 182,272 181,271 181,262" fill="#fff"/>
<text x="195.7" y="269.5" font-size="10" text-anchor="middle" letter-spacing="0.25">J8F2</text>
<polygon points="243,259 271,259 273,261 273,272 271,274 243,274 241,272 241,261" fill="#000"/>
<polygon points="244,261 270,261 271,262 271,271 270,272 244,272 243,271 243,262" fill="#fff"/>
<text x="257.2" y="269.5" font-size="10" text-anchor="middle" letter-spacing="0.25">J8F1</text>
<polygon points="155,314 185,314 187,316 187,327 185,329 155,329 153,327 153,316" fill="#000"/>
<polygon points="156,316 184,316 185,317 185,326 184,327 156,327 155,326 155,317" fill="#fff"/>
<rect x="187" y="318" width="2" height="6" fill="#000"/>
<rect x="189" y="319" width="4" height="4" fill="#000"/>
<rect x="193" y="320" width="3" height="2" fill="#000"/>
<rect x="196" y="320" width="2" height="2" fill="#000"/>
<rect x="185" y="320" width="5" height="1" fill="#fff"/>
<text x="170.2" y="324.5" font-size="10" text-anchor="middle" letter-spacing="0.25">J9F1</text>
<polygon points="453,212 482,212 484,214 484,226 482,228 453,228 451,226 451,214" fill="#000"/>
<polygon points="454,214 481,214 482,215 482,225 481,226 454,226 453,225 453,215" fill="#fff"/>
<rect x="484" y="217" width="2" height="6" fill="#000"/>
<rect x="486" y="218" width="4" height="4" fill="#000"/>
<rect x="490" y="219" width="3" height="2" fill="#000"/>
<rect x="493" y="219" width="3" height="2" fill="#000"/>
<rect x="482" y="219" width="5" height="1" fill="#fff"/>
<text x="467.7" y="223.0" font-size="10" text-anchor="middle" letter-spacing="0.25">J1E2</text>
<polygon points="409,246 438,246 440,248 440,257 438,259 409,259 407,257 407,248" fill="#000"/>
<polygon points="410,248 437,248 438,249 438,256 437,257 410,257 409,256 409,249" fill="#fff"/>
<rect x="440" y="249" width="2" height="6" fill="#000"/>
<rect x="442" y="250" width="4" height="4" fill="#000"/>
<rect x="446" y="251" width="3" height="2" fill="#000"/>
<rect x="449" y="251" width="2" height="2" fill="#000"/>
<rect x="438" y="251" width="5" height="1" fill="#fff"/>
<text x="423.7" y="255.5" font-size="10" text-anchor="middle" letter-spacing="0.25">J2E2</text>
<polygon points="357,259 385,259 387,261 387,271 385,273 357,273 355,271 355,261" fill="#000"/>
<polygon points="358,261 384,261 385,262 385,270 384,271 358,271 357,270 357,262" fill="#fff"/>
<rect x="387" y="263" width="2" height="6" fill="#000"/>
<rect x="389" y="264" width="4" height="4" fill="#000"/>
<rect x="393" y="265" width="3" height="2" fill="#000"/>
<rect x="396" y="265" width="2" height="2" fill="#000"/>
<rect x="385" y="265" width="5" height="1" fill="#fff"/>
<text x="371.2" y="269.0" font-size="10" text-anchor="middle" letter-spacing="0.25">J3F2</text>
<polygon points="557,227 586,227 588,229 588,240 586,242 557,242 555,240 555,229" fill="#000"/>
<polygon points="558,229 585,229 586,230 586,239 585,240 558,240 557,239 557,230" fill="#fff"/>
<text x="571.7" y="237.5" font-size="10" text-anchor="middle" letter-spacing="0.25">J0F2</text>
<polygon points="595,251 625,251 627,253 627,264 625,266 595,266 593,264 593,253" fill="#000"/>
<polygon points="596,253 624,253 625,254 625,263 624,264 596,264 595,263 595,254" fill="#fff"/>
<rect x="591" y="255" width="2" height="6" fill="#000"/>
<rect x="587" y="256" width="4" height="4" fill="#000"/>
<rect x="584" y="257" width="3" height="2" fill="#000"/>
<rect x="582" y="257" width="2" height="2" fill="#000"/>
<rect x="590" y="257" width="5" height="1" fill="#fff"/>
<text x="610.2" y="261.5" font-size="10" text-anchor="middle" letter-spacing="0.25">J0E1</text>
<polygon points="480,289 509,289 511,291 511,302 509,304 480,304 478,302 478,291" fill="#000"/>
<polygon points="481,291 508,291 509,292 509,301 508,302 481,302 480,301 480,292" fill="#fff"/>
<text x="494.7" y="299.5" font-size="10" text-anchor="middle" letter-spacing="0.25">J1F1</text>
<polygon points="521,295 552,295 554,297 554,308 552,310 521,310 519,308 519,297" fill="#000"/>
<polygon points="522,297 551,297 552,298 552,307 551,308 522,308 521,307 521,298" fill="#fff"/>
<text x="536.7" y="305.5" font-size="10" text-anchor="middle" letter-spacing="0.25">J1E1</text>
<polygon points="576,36 606,36 608,38 608,49 606,51 576,51 574,49 574,38" fill="#000"/>
<polygon points="577,38 605,38 606,39 606,48 605,49 577,49 576,48 576,39" fill="#fff"/>
<rect x="572" y="40" width="2" height="6" fill="#000"/>
<rect x="568" y="41" width="4" height="4" fill="#000"/>
<rect x="565" y="42" width="3" height="2" fill="#000"/>
<rect x="563" y="42" width="2" height="2" fill="#000"/>
<rect x="571" y="42" width="5" height="1" fill="#fff"/>
<text x="591.2" y="46.5" font-size="10" text-anchor="middle" letter-spacing="0.25">J0A1</text>
<polygon points="622,283 647,283 649,285 649,295 647,297 622,297 620,295 620,285" fill="#000"/>
<polygon points="623,285 646,285 647,286 647,294 646,295 623,295 622,294 622,286" fill="#fff"/>
<rect x="618" y="287" width="2" height="6" fill="#000"/>
<rect x="614" y="288" width="4" height="4" fill="#000"/>
<rect x="611" y="289" width="3" height="2" fill="#000"/>
<rect x="608" y="289" width="3" height="2" fill="#000"/>
<rect x="617" y="289" width="5" height="1" fill="#fff"/>
<text x="634.7" y="293.0" font-size="10" text-anchor="middle" letter-spacing="0.25">CN1</text>
<polygon points="623,312 647,312 649,314 649,324 647,326 623,326 621,324 621,314" fill="#000"/>
<polygon points="624,314 646,314 647,315 647,323 646,324 624,324 623,323 623,315" fill="#fff"/>
<rect x="619" y="316" width="2" height="6" fill="#000"/>
<rect x="615" y="317" width="4" height="4" fill="#000"/>
<rect x="612" y="318" width="3" height="2" fill="#000"/>
<rect x="608" y="318" width="4" height="2" fill="#000"/>
<rect x="618" y="318" width="5" height="1" fill="#fff"/>
<text x="635.2" y="322.0" font-size="10" text-anchor="middle" letter-spacing="0.25">CN3</text>
<polygon points="622,395 646,395 648,397 648,407 646,409 622,409 620,407 620,397" fill="#000"/>
<polygon points="623,397 645,397 646,398 646,406 645,407 623,407 622,406 622,398" fill="#fff"/>
<rect x="618" y="399" width="2" height="6" fill="#000"/>
<rect x="614" y="400" width="4" height="4" fill="#000"/>
<rect x="611" y="401" width="3" height="2" fill="#000"/>
<rect x="608" y="401" width="3" height="2" fill="#000"/>
<rect x="617" y="401" width="5" height="1" fill="#fff"/>
<text x="634.2" y="405.0" font-size="10" text-anchor="middle" letter-spacing="0.25">CN5</text>
<polygon points="622,437 646,437 648,439 648,449 646,451 622,451 620,449 620,439" fill="#000"/>
<polygon points="623,439 645,439 646,440 646,448 645,449 623,449 622,448 622,440" fill="#fff"/>
<rect x="618" y="441" width="2" height="6" fill="#000"/>
<rect x="614" y="442" width="4" height="4" fill="#000"/>
<rect x="611" y="443" width="3" height="2" fill="#000"/>
<rect x="608" y="443" width="3" height="2" fill="#000"/>
<rect x="617" y="443" width="5" height="1" fill="#fff"/>
<text x="634.2" y="447.0" font-size="10" text-anchor="middle" letter-spacing="0.25">CN6</text>
<polygon points="609,493 634,493 636,495 636,505 634,507 609,507 607,505 607,495" fill="#000"/>
<polygon points="610,495 633,495 634,496 634,504 633,505 610,505 609,504 609,496" fill="#fff"/>
<rect x="605" y="497" width="2" height="6" fill="#000"/>
<rect x="601" y="498" width="4" height="4" fill="#000"/>
<rect x="598" y="499" width="3" height="2" fill="#000"/>
<rect x="596" y="499" width="2" height="2" fill="#000"/>
<rect x="604" y="499" width="5" height="1" fill="#fff"/>
<text x="621.7" y="503.0" font-size="10" text-anchor="middle" letter-spacing="0.25">CN9</text>
<polygon points="522,538 550,538 552,540 552,551 550,553 522,553 520,551 520,540" fill="#000"/>
<polygon points="523,540 549,540 550,541 550,550 549,551 523,551 522,550 522,541" fill="#fff"/>
<rect x="518" y="542" width="2" height="6" fill="#000"/>
<rect x="514" y="543" width="4" height="4" fill="#000"/>
<rect x="511" y="544" width="3" height="2" fill="#000"/>
<rect x="507" y="544" width="4" height="2" fill="#000"/>
<rect x="517" y="544" width="5" height="1" fill="#fff"/>
<text x="536.2" y="548.5" font-size="10" text-anchor="middle" letter-spacing="0.25">J1M1</text>
<polygon points="303,552 328,552 330,554 330,564 328,566 303,566 301,564 301,554" fill="#000"/>
<polygon points="304,554 327,554 328,555 328,563 327,564 304,564 303,563 303,555" fill="#fff"/>
<rect x="330" y="556" width="2" height="6" fill="#000"/>
<rect x="332" y="557" width="4" height="4" fill="#000"/>
<rect x="336" y="558" width="3" height="2" fill="#000"/>
<rect x="339" y="558" width="2" height="2" fill="#000"/>
<rect x="328" y="558" width="5" height="1" fill="#fff"/>
<text x="315.7" y="562.0" font-size="10" text-anchor="middle" letter-spacing="0.25">ATX</text>
<polygon points="465,261 494,261 496,263 496,272 494,274 465,274 463,272 463,263" fill="#000"/>
<polygon points="466,263 493,263 494,264 494,271 493,272 466,272 465,271 465,264" fill="#fff"/>
<text x="479.7" y="270.5" font-size="10" text-anchor="middle" letter-spacing="0.25">J2E1</text>
<polygon points="352,399 382,399 384,401 384,412 382,414 352,414 350,412 350,401" fill="#000"/>
<polygon points="353,401 381,401 382,402 382,411 381,412 353,412 352,411 352,402" fill="#fff"/>
<text x="367.2" y="409.5" font-size="10" text-anchor="middle" letter-spacing="0.25">CPU2</text>
<polygon points="447,399 477,399 479,401 479,411 477,413 447,413 445,411 445,401" fill="#000"/>
<polygon points="448,401 476,401 477,402 477,410 476,411 448,411 447,410 447,402" fill="#fff"/>
<text x="462.2" y="409.0" font-size="10" text-anchor="middle" letter-spacing="0.25">CPU1</text>
<polygon points="568,418 589,418 591,420 591,429 589,431 568,431 566,429 566,420" fill="#000"/>
<polygon points="569,420 588,420 589,421 589,428 588,429 569,429 568,428 568,421" fill="#fff"/>
<text x="578.7" y="427.5" font-size="10" text-anchor="middle" letter-spacing="0.25">CN7</text>
<polygon points="550,494 573,494 575,496 575,506 573,508 550,508 548,506 548,496" fill="#000"/>
<polygon points="551,496 572,496 573,497 573,505 572,506 551,506 550,505 550,497" fill="#fff"/>
<text x="561.7" y="504.0" font-size="10" text-anchor="middle" letter-spacing="0.25">CN8</text>
<polygon points="559,540 586,540 588,542 588,551 586,553 559,553 557,551 557,542" fill="#000"/>
<polygon points="560,542 585,542 586,543 586,550 585,551 560,551 559,550 559,543" fill="#fff"/>
<text x="572.7" y="549.5" font-size="10" text-anchor="middle" letter-spacing="0.25">CN10</text>
<rect x="451" y="524" width="32" height="11" fill="#fff"/>
<text x="467" y="533.5" font-size="11" text-anchor="middle" >J1M2</text>
<polyline points="211,271 218,280" fill="none" stroke="#000" stroke-width="2.5"/>
<polyline points="242,272 235,280" fill="none" stroke="#000" stroke-width="2.5"/>
<polyline points="557,240 550,247" fill="none" stroke="#000" stroke-width="2"/>
<polyline points="509,290 516,283" fill="none" stroke="#000" stroke-width="2"/>
<polygon points="533,296 539,296 537,290 537,283 535,283 535,290" fill="#000"/>
<polyline points="493,262 501,254" fill="none" stroke="#000" stroke-width="2"/>
<polygon points="464,538 470,538 469,547 468,550 466,550 465,547" fill="#000"/>
<text x="483.3" y="45.5" font-size="9.5" text-anchor="middle" letter-spacing="0.7">34817</text>
</svg></body></html>
